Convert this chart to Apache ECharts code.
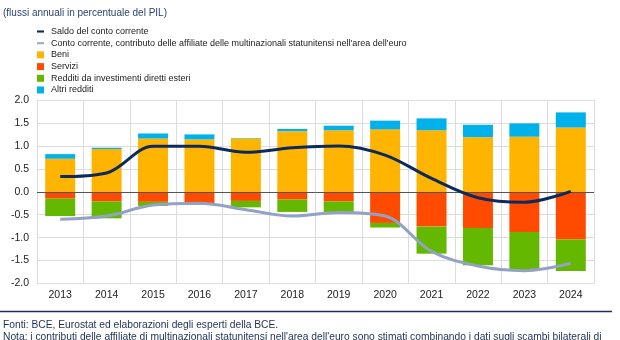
<!DOCTYPE html>
<html>
<head>
<meta charset="utf-8">
<script src="https://cdn.jsdelivr.net/npm/echarts@6/dist/echarts.min.js"></script>
<style>
  html, body { margin: 0; padding: 0; background: #fff; }
  #chart { width: 620px; height: 340px; }
</style>
</head>
<body>
<div id="chart"></div>
<script>
// Annual flows, percent of GDP
const years = ['2013','2014','2015','2016','2017','2018','2019','2020','2021','2022','2023','2024'];
const saldo = [0.33, 0.41, 0.99, 0.99, 0.86, 0.96, 1.00, 0.80, 0.29, -0.13, -0.23, 0.01];
const affiliateUS = [-0.60, -0.53, -0.29, -0.25, -0.39, -0.53, -0.45, -0.53, -1.30, -1.62, -1.72, -1.56];
const beni = [0.72, 0.93, 1.16, 1.14, 1.16, 1.32, 1.34, 1.36, 1.34, 1.19, 1.20, 1.40];
const servizi = [-0.15, -0.21, -0.22, -0.26, -0.20, -0.17, -0.21, -0.68, -0.76, -0.79, -0.88, -1.04];
const redditiIDE = [-0.38, -0.37, -0.09, -0.02, -0.14, -0.27, -0.24, -0.10, -0.59, -0.81, -0.83, -0.69];
const altriRedditi = [0.10, 0.03, 0.11, 0.11, 0.01, 0.05, 0.10, 0.19, 0.26, 0.27, 0.29, 0.33];

const names = {
  saldo: 'Saldo del conto corrente',
  us: "Conto corrente, contributo delle affiliate delle multinazionali statunitensi nell'area dell'euro",
  beni: 'Beni',
  servizi: 'Servizi',
  ide: 'Redditi da investimenti diretti esteri',
  altri: 'Altri redditi'
};

const FONT = '"Liberation Sans Narrow", "Liberation Sans", Arial, sans-serif';
const dash = 'path://M0,0H10V3H0Z';

const chart = echarts.init(document.getElementById('chart'), null, { renderer: 'canvas' });

function barSeries(name, data, color) {
  return {
    name, type: 'bar', stack: 'flussi', data,
    barWidth: 30,
    itemStyle: { color },
    emphasis: { disabled: true },
    z: 2
  };
}

chart.setOption({
  animation: false,
  textStyle: { fontFamily: FONT },
  grid: { left: 37, right: 26, top: 100, bottom: 56.5 },
  legend: {
    orient: 'vertical',
    left: 37, top: 27, padding: 0,
    itemWidth: 7, itemHeight: 7, itemGap: 2.7,
    selectedMode: false,
    textStyle: { fontFamily: FONT, fontSize: 9, color: '#222', padding: [0, 0, 0, 2] },
    data: [
      { name: names.saldo, icon: dash, itemStyle: { color: '#0d2a5e' } },
      { name: names.us, icon: dash, itemStyle: { color: '#a3aabb' } },
      { name: names.beni, icon: 'rect' },
      { name: names.servizi, icon: 'rect' },
      { name: names.ide, icon: 'rect' },
      { name: names.altri, icon: 'rect' }
    ]
  },
  xAxis: {
    type: 'category',
    data: years,
    boundaryGap: true,
    axisLine: { show: false },
    axisTick: { show: false },
    axisLabel: { color: '#222', fontSize: 10.5, margin: 6, fontFamily: FONT },
    splitLine: { show: true, lineStyle: { color: '#dcdcdc', width: 1 } }
  },
  yAxis: {
    type: 'value',
    min: -2, max: 2, interval: 0.5,
    axisLine: { show: false },
    axisTick: { show: false },
    axisLabel: {
      color: '#222', fontSize: 10.5, margin: 8, fontFamily: FONT,
      formatter: v => v.toFixed(1)
    },
    splitLine: { show: true, lineStyle: { color: '#dcdcdc', width: 1 } }
  },
  series: [
    barSeries(names.beni, beni, '#ffb400'),
    barSeries(names.servizi, servizi, '#ff4b00'),
    barSeries(names.ide, redditiIDE, '#65b800'),
    Object.assign(barSeries(names.altri, altriRedditi, '#00b1ea'), {
      markLine: {
        silent: true, symbol: 'none', label: { show: false },
        lineStyle: { color: '#555', width: 1, type: 'solid' },
        data: [{ yAxis: 0 }]
      }
    }),
    {
      name: names.saldo, type: 'line', data: saldo,
      smooth: 0.35, showSymbol: false, symbol: 'none',
      lineStyle: { color: '#0d2a5e', width: 3 },
      itemStyle: { color: '#0d2a5e' },
      emphasis: { disabled: true },
      z: 5
    },
    {
      name: names.us, type: 'line', data: affiliateUS,
      smooth: 0.35, showSymbol: false, symbol: 'none',
      lineStyle: { color: '#93a1c4', width: 3 },
      itemStyle: { color: '#93a1c4' },
      emphasis: { disabled: true },
      z: 4
    }
  ],
  graphic: [
    {
      type: 'text', left: 3, top: 8,
      style: { text: '(flussi annuali in percentuale del PIL)', fill: '#2c4470', fontSize: 10, fontFamily: FONT }
    },
    {
      type: 'line', shape: { x1: 0, y1: 311.5, x2: 612, y2: 311.5 },
      style: { stroke: '#1d2f55', lineWidth: 1.5 }
    },
    {
      type: 'text', left: 3, top: 320,
      style: { text: 'Fonti: BCE, Eurostat ed elaborazioni degli esperti della BCE.', fill: '#1f3050', fontSize: 10.25, fontFamily: FONT }
    },
    {
      type: 'text', left: 3, top: 332,
      style: { text: "Nota: i contributi delle affiliate di multinazionali statunitensi nell'area dell'euro sono stimati combinando i dati sugli scambi bilaterali di", fill: '#1f3050', fontSize: 10.25, fontFamily: FONT }
    }
  ]
});
</script>
</body>
</html>
